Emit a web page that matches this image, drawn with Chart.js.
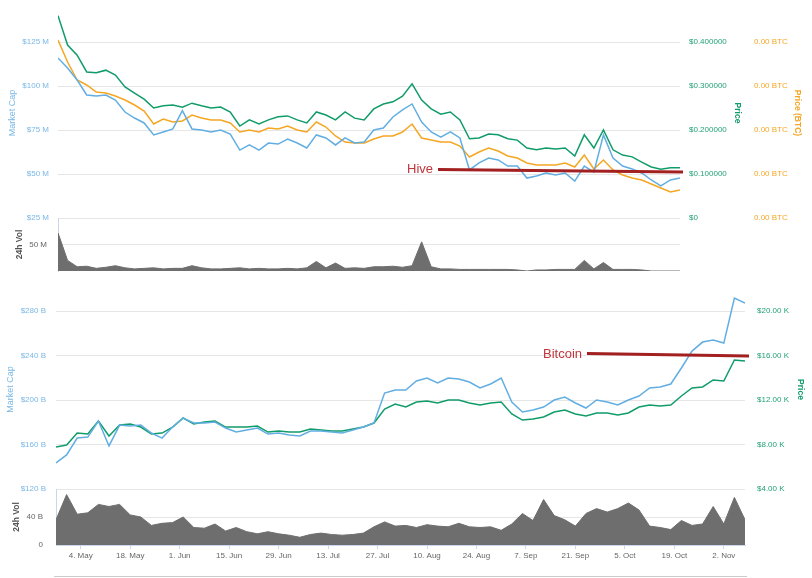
<!DOCTYPE html>
<html lang="en">
<head>
<meta charset="utf-8">
<title>Hive / Bitcoin</title>
<script src="https://cdn.jsdelivr.net/npm/chart.js@4.4.1/dist/chart.umd.min.js"></script>
<style>
  html, body { margin: 0; padding: 0; background: #fff; }
  #wrap { position: relative; width: 812px; height: 578px; overflow: hidden; }
  #wrap canvas { position: absolute; left: 0; }
  #notes { position: absolute; left: 0; top: 0; font-family: "Liberation Sans", Arial, sans-serif; }
  .nav-line { position: absolute; left: 54px; top: 576px; width: 693px; height: 1px; background: #cccccc; }
</style>
</head>
<body>
<div id="wrap">
  <!-- each canvas is offset so that its plot area lands on the reference pane -->
  <canvas id="hivePrice" width="812" height="246" style="top:-10px"></canvas>
  <canvas id="hiveVol" width="812" height="89" style="top:200px"></canvas>
  <canvas id="btcPrice" width="812" height="239" style="top:270px"></canvas>
  <canvas id="btcVol" width="812" height="109" style="top:469px"></canvas>
  <div class="nav-line"></div>
  <svg id="notes" width="812" height="578">
    <text x="407" y="172.5" fill="#c0343a" font-size="13">Hive</text>
    <line x1="438" y1="169.5" x2="683" y2="172" stroke="#a32020" stroke-width="3"></line>
    <text x="543" y="357.5" fill="#c0343a" font-size="13">Bitcoin</text>
    <line x1="587" y1="353.5" x2="749" y2="356" stroke="#a32020" stroke-width="3"></line>
  </svg>
</div>

<script>
// ====== DATA ======
// one point every 3 days, day 0 = 27 Apr 2020
const DAY_STEP = 3;

// Hive (top panel)
const hiveMarketCap = [115.9, 110.2, 103.4, 94.9, 94.3, 94.9, 92.0, 85.2, 81.8, 79.0,
  72.2, 73.9, 75.6, 86.0, 75.6, 75.0, 73.9, 75.0, 72.7, 63.6,
  66.5, 63.6, 67.6, 67.0, 69.9, 67.6, 64.8, 72.2, 70.5, 66.5,
  70.5, 67.6, 68.2, 75.0, 76.1, 82.4, 86.4, 89.8, 79.5, 73.9,
  71.0, 73.9, 70.5, 52.3, 56.3, 59.1, 58.0, 54.5, 54.5, 47.7,
  48.9, 50.6, 49.4, 50.6, 46.0, 54.5, 51.1, 72.2, 59.1, 54.5,
  52.8, 50.6, 46.6, 43.2, 46.6, 47.7]; // $ M
const hivePriceUsd = [0.460, 0.393, 0.370, 0.332, 0.330, 0.336, 0.325, 0.298, 0.284, 0.270,
  0.250, 0.255, 0.257, 0.252, 0.261, 0.255, 0.250, 0.252, 0.241, 0.209,
  0.223, 0.214, 0.223, 0.230, 0.232, 0.223, 0.216, 0.241, 0.234, 0.223,
  0.241, 0.227, 0.223, 0.248, 0.259, 0.264, 0.277, 0.305, 0.268, 0.248,
  0.236, 0.241, 0.223, 0.180, 0.182, 0.191, 0.189, 0.180, 0.177, 0.159,
  0.155, 0.159, 0.157, 0.159, 0.141, 0.189, 0.159, 0.200, 0.155, 0.143,
  0.139, 0.127, 0.116, 0.111, 0.114, 0.114]; // $
const hivePriceSat = [4045, 3545, 3136, 3023, 2864, 2841, 2773, 2682, 2568, 2432,
  2136, 2250, 2182, 2205, 2341, 2273, 2227, 2227, 2159, 1955,
  2000, 1955, 2045, 2023, 2091, 2000, 1955, 2182, 2068, 1864,
  1727, 1705, 1705, 1795, 1864, 1864, 1955, 2136, 1818, 1773,
  1727, 1727, 1636, 1386, 1500, 1591, 1523, 1409, 1364, 1250,
  1205, 1205, 1205, 1250, 1159, 1432, 1114, 1318, 1091, 977,
  909, 864, 773, 682, 591, 636]; // satoshi (1e-8 BTC)
const hiveVolume = [72, 20, 8, 9, 5, 7, 10, 6, 4, 5,
  6, 4, 5, 5, 10, 6, 4, 4, 5, 6,
  4, 5, 4, 4, 5, 4, 6, 18, 6, 15,
  5, 6, 5, 8, 8, 9, 7, 10, 55, 8,
  4, 4, 3, 3, 3, 3, 3, 3, 2, 0,
  2, 2, 3, 3, 3, 20, 4, 16, 3, 3,
  3, 2, 0, 0, 0, 0]; // $ M

// Bitcoin (bottom panel)
const btcMarketCap = [143.4, 150.6, 165.8, 166.7, 181.1, 158.7, 177.5, 176.6, 177.5, 170.3,
  165.8, 175.7, 183.8, 179.3, 179.3, 180.2, 174.8, 171.2, 173.0, 174.8,
  169.4, 170.3, 168.5, 167.6, 172.1, 172.1, 171.2, 170.3, 173.0, 175.7,
  179.3, 206.3, 209.0, 209.0, 217.1, 219.8, 215.3, 219.8, 218.9, 216.2,
  210.8, 214.4, 219.8, 198.2, 189.2, 191.0, 193.7, 200.0, 202.7, 197.3,
  192.8, 200.0, 198.2, 195.5, 200.0, 203.6, 210.8, 211.7, 214.4, 228.8,
  244.0, 252.1, 253.9, 251.2, 291.7, 287.2]; // $ B
const btcPriceK = [7.78, 7.96, 9.03, 8.94, 10.11, 8.76, 9.75, 9.84, 9.57, 8.94,
  9.03, 9.57, 10.38, 9.84, 10.02, 10.11, 9.57, 9.57, 9.57, 9.66,
  9.12, 9.21, 9.12, 9.12, 9.39, 9.30, 9.21, 9.21, 9.39, 9.57,
  9.93, 11.19, 11.64, 11.37, 11.82, 11.91, 11.73, 12.00, 12.00, 11.73,
  11.55, 11.73, 11.82, 10.74, 10.20, 10.29, 10.47, 10.92, 11.10, 10.74,
  10.56, 10.83, 10.83, 10.65, 10.83, 11.37, 11.55, 11.46, 11.55, 12.36,
  13.08, 13.17, 13.80, 13.71, 15.60, 15.50]; // $ K
const btcVolume = [36, 72, 44, 46, 58, 55, 58, 43, 40, 28,
  31, 32, 40, 25, 24, 30, 20, 25, 19, 16,
  19, 16, 14, 11, 15, 17, 15, 14, 15, 17,
  26, 33, 27, 28, 25, 29, 27, 26, 31, 26,
  25, 26, 21, 30, 45, 35, 65, 42, 36, 27,
  45, 52, 47, 52, 60, 50, 27, 25, 22, 35,
  28, 30, 55, 30, 68, 36]; // $ B

// Tick labels
const dateTickDays = [7, 21, 35, 49, 63, 77, 91, 105, 119, 133, 147, 161, 175, 189];
const dateTickLabels = ["4. May", "18. May", "1. Jun", "15. Jun", "29. Jun", "13. Jul", "27. Jul",
  "10. Aug", "24. Aug", "7. Sep", "21. Sep", "5. Oct", "19. Oct", "2. Nov"];
const hiveCapTicks = [25, 50, 75, 100, 125];
const hivePriceTicks = [0, 0.1, 0.2, 0.3, 0.4];
const hiveSatTicks = [0, 1000, 2000, 3000, 4000];
const hiveVolTicks = [50, 100];
const btcCapTicks = [120, 160, 200, 240, 280];
const btcPriceTicks = [4, 8, 12, 16, 20];
const btcVolTicks = [0, 40, 80];

// ====== STYLE ======
const BLUE = "#62aee2";
const GREEN = "#109c69";
const ORANGE = "#f5a623";
const CAP_LABEL = "#7ab8e6";
const PRICE_LABEL = "#24a176";
const VOL_FILL = "#6e6e6e";
const GRID = "#e6e6e6";
const AXIS_LINE = "#ccd6eb";

Chart.defaults.font.family = "'Liberation Sans', Arial, sans-serif";
Chart.defaults.animation = false;
Chart.defaults.responsive = false;
Chart.defaults.plugins.legend.display = false;
Chart.defaults.plugins.tooltip.enabled = false;

// ====== HELPERS ======
function toPoints(values) {
  return values.map((v, i) => ({ x: i * DAY_STEP, y: v }));
}

function fixedTicks(values) {
  return (scale) => { scale.ticks = values.map((v) => ({ value: v })); };
}

function fixedWidth(w) {
  return (scale) => { scale.width = w; };
}

function lineSet(values, color, axis) {
  return { data: toPoints(values), yAxisID: axis, borderColor: color, borderWidth: 1.5,
    pointRadius: 0, tension: 0, fill: false };
}

function volSet(values) {
  return { data: toPoints(values), yAxisID: "vol", borderColor: VOL_FILL, backgroundColor: VOL_FILL,
    borderWidth: 1, pointRadius: 0, tension: 0, fill: "origin" };
}

const xMax = (hiveMarketCap.length - 1) * DAY_STEP;
const xHidden = { type: "linear", min: 0, max: xMax, display: false };

function title(text, color, size, bold, pad) {
  return { display: true, text: text, color: color, font: { size: size, weight: bold ? "bold" : "normal" },
    padding: { top: pad, bottom: 0 } };
}

// ========================
// === HIVE: PRICE PANE ===
// ========================
// plot area: y 8..218 on the page
new Chart(document.getElementById("hivePrice"), {
  type: "line",
  data: { datasets: [
    lineSet(hiveMarketCap, BLUE, "cap"),
    lineSet(hivePriceSat, ORANGE, "btc"),
    lineSet(hivePriceUsd, GREEN, "price"),
  ] },
  options: {
    layout: { padding: { top: 18, bottom: 18, left: 0, right: 9 } },
    scales: {
      x: xHidden,
      cap: {
        position: "left", min: 25, max: 144.32,
        afterBuildTicks: fixedTicks(hiveCapTicks), afterFit: fixedWidth(58),
        grid: { color: GRID, drawTicks: false }, border: { display: false },
        ticks: { color: CAP_LABEL, padding: 9, font: { size: 8 }, callback: (v) => "$" + v + " M" },
        title: title("Market Cap", CAP_LABEL, 9, false, 7),
      },
      price: {
        position: "right", weight: 0, min: 0, max: 0.4773,
        afterBuildTicks: fixedTicks(hivePriceTicks), afterFit: fixedWidth(63),
        grid: { display: false, drawTicks: false }, border: { display: false },
        ticks: { color: PRICE_LABEL, padding: 9, font: { size: 8 },
          callback: (v) => (v === 0 ? "$0" : "$" + v.toFixed(6)) },
        title: title("Price", GREEN, 8.5, true, 1),
      },
      btc: {
        position: "right", weight: 1, min: 0, max: 4772.7,
        afterBuildTicks: fixedTicks(hiveSatTicks), afterFit: fixedWidth(60),
        grid: { display: false, drawTicks: false }, border: { display: false },
        ticks: { color: ORANGE, padding: 11, font: { size: 8 },
          callback: (v) => (v / 1e8).toFixed(2) + " BTC" },
        title: title("Price (BTC)", ORANGE, 8.5, true, 1),
      },
    },
  },
});

// =========================
// === HIVE: VOLUME PANE ===
// =========================
// plot area: y 218..271
new Chart(document.getElementById("hiveVol"), {
  type: "line",
  data: { datasets: [volSet(hiveVolume)] },
  options: {
    layout: { padding: { top: 18, bottom: 18, left: 0, right: 132 } },
    scales: {
      x: xHidden,
      vol: {
        position: "left", min: 0, max: 100,
        afterBuildTicks: fixedTicks(hiveVolTicks), afterFit: fixedWidth(58),
        grid: { color: GRID, drawTicks: false }, border: { display: true, color: AXIS_LINE },
        ticks: { color: "#666", padding: 11, font: { size: 8 }, callback: (v) => (v === 100 ? "" : v + " M") },
        title: title("24h Vol", "#555", 8.5, true, 15),
      },
    },
  },
});

// ===========================
// === BITCOIN: PRICE PANE ===
// ===========================
// plot area: y 290..489
new Chart(document.getElementById("btcPrice"), {
  type: "line",
  data: { datasets: [
    lineSet(btcMarketCap, BLUE, "cap"),
    lineSet(btcPriceK, GREEN, "price"),
  ] },
  options: {
    layout: { padding: { top: 20, bottom: 20, left: 0, right: 6 } },
    scales: {
      x: xHidden,
      cap: {
        position: "left", min: 120, max: 298.9,
        afterBuildTicks: fixedTicks(btcCapTicks), afterFit: fixedWidth(56),
        grid: { color: GRID, drawTicks: false }, border: { display: false },
        ticks: { color: CAP_LABEL, padding: 10, font: { size: 8 }, callback: (v) => "$" + v + " B" },
        title: title("Market Cap", CAP_LABEL, 9, false, 5),
      },
      price: {
        position: "right", min: 4, max: 21.89,
        afterBuildTicks: fixedTicks(btcPriceTicks), afterFit: fixedWidth(61),
        grid: { display: false, drawTicks: false }, border: { display: false },
        ticks: { color: PRICE_LABEL, padding: 12, font: { size: 8 }, callback: (v) => "$" + v.toFixed(2) + " K" },
        title: title("Price", GREEN, 8.5, true, 1),
      },
    },
  },
});

// ============================
// === BITCOIN: VOLUME PANE ===
// ============================
// plot area: y 489..545, date axis below
new Chart(document.getElementById("btcVol"), {
  type: "line",
  data: { datasets: [volSet(btcVolume)] },
  options: {
    layout: { padding: { top: 20, bottom: 18, left: 0, right: 67 } },
    scales: {
      x: {
        type: "linear", min: 0, max: xMax,
        afterBuildTicks: fixedTicks(dateTickDays),
        afterFit: (scale) => { scale.height = 15; },
        grid: { drawOnChartArea: false, drawTicks: true, tickLength: 4, color: AXIS_LINE },
        border: { display: true, color: AXIS_LINE },
        ticks: { color: "#666", padding: 2, font: { size: 8 }, maxRotation: 0, autoSkip: false,
          callback: (v, i) => dateTickLabels[i] },
      },
      vol: {
        position: "left", min: 0, max: 80,
        afterBuildTicks: fixedTicks(btcVolTicks), afterFit: fixedWidth(56),
        grid: { color: GRID, drawTicks: false }, border: { display: true, color: AXIS_LINE },
        ticks: { color: "#666", padding: 13, font: { size: 8 }, callback: (v) => (v === 80 ? "" : v === 0 ? "0" : v + " B") },
        title: title("24h Vol", "#555", 8.5, true, 12),
      },
    },
  },
});
</script>
</body>
</html>
